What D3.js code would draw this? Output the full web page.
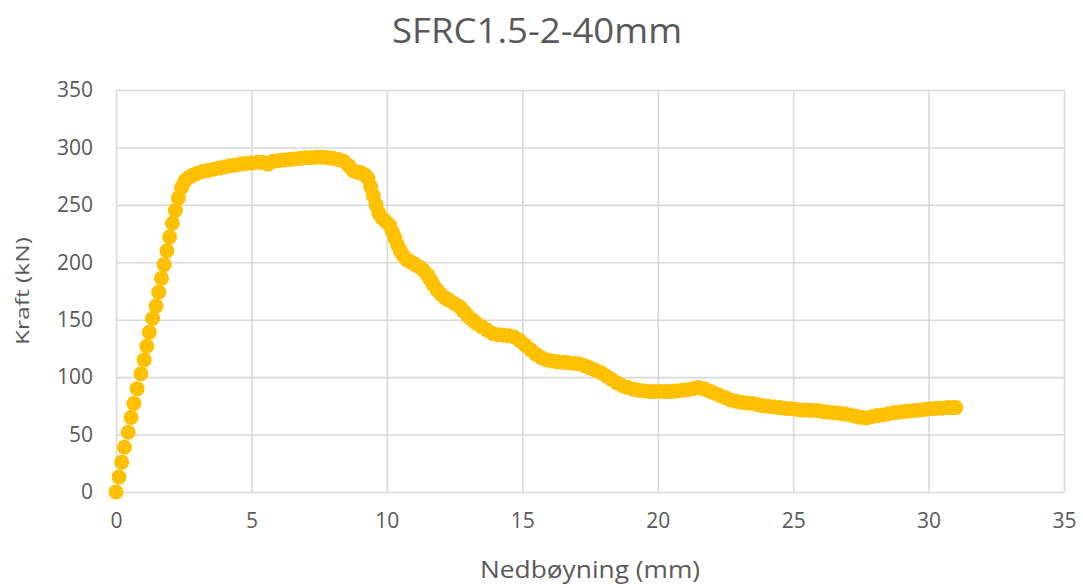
<!DOCTYPE html>
<html>
<head>
<meta charset="utf-8">
<script src="https://cdn.jsdelivr.net/npm/d3@7"></script>
<style>
  html, body { margin: 0; padding: 0; background: #fff; }
  svg { display: block; font-family: "Open Sans", "Noto Sans", sans-serif; }
</style>
</head>
<body>
<svg id="chart" width="1083" height="588"></svg>
<script>
// Load–deflection curve, SFRC1.5-2-40mm specimen
const deflection = [
  0, 0.11, 0.21, 0.31, 0.45, 0.56, 0.66, 0.78, 0.92, 1.04,
  1.14, 1.23, 1.35, 1.48, 1.58, 1.68, 1.78, 1.88, 1.98, 2.08,
  2.19, 2.30, 2.42, 2.55, 2.70, 2.85, 3.0, 3.2, 3.4, 3.6,
  3.8, 4.0, 4.2, 4.4, 4.6, 4.8, 5.0, 5.2, 5.4, 5.6,
  5.8, 6.0, 6.2, 6.4, 6.6, 6.8, 7.0, 7.2, 7.4, 7.6,
  7.8, 8.0, 8.2, 8.4, 8.6, 8.75, 8.9, 9.05, 9.2, 9.3,
  9.4, 9.5, 9.6, 9.7, 9.8, 9.95, 10.1, 10.2, 10.3, 10.4,
  10.5, 10.6, 10.75, 10.9, 11.05, 11.2, 11.35, 11.5, 11.6, 11.7,
  11.85, 12.0, 12.15, 12.3, 12.5, 12.7, 12.85, 13.0, 13.15, 13.3,
  13.5, 13.7, 13.9, 14.1, 14.3, 14.5, 14.7, 14.9, 15.1, 15.3,
  15.5, 15.7, 15.9, 16.1, 16.3, 16.5, 16.7, 16.9, 17.1, 17.3,
  17.5, 17.7, 17.9, 18.1, 18.3, 18.5, 18.7, 18.9, 19.1, 19.3,
  19.5, 19.7, 19.9, 20.1, 20.3, 20.5, 20.7, 20.9, 21.1, 21.3,
  21.5, 21.7, 21.9, 22.1, 22.3, 22.5, 22.7, 22.9, 23.1, 23.3,
  23.5, 23.7, 23.9, 24.1, 24.3, 24.5, 24.7, 24.9, 25.1, 25.3,
  25.5, 25.7, 25.9, 26.1, 26.3, 26.5, 26.7, 26.9, 27.1, 27.3,
  27.5, 27.7, 27.9, 28.1, 28.3, 28.5, 28.7, 28.9, 29.1, 29.3,
  29.5, 29.7, 29.9, 30.1, 30.3, 30.5, 30.7, 30.9, 31.0
];
const force = [
  0, 13, 26, 39, 52, 65, 77, 90, 103, 115,
  127, 139, 151, 162, 174, 186, 198, 210, 222, 234,
  245, 256, 265, 271, 274, 276, 277.5, 279, 280, 281,
  282, 283, 284, 284.5, 285.5, 286, 286.5, 287, 287, 285.5,
  288, 288.5, 289, 289.5, 290, 290.5, 291, 291, 291.5, 291.5,
  291, 290.5, 289.5, 288, 284, 280, 278.5, 278, 276, 273,
  266, 258, 250, 243, 239, 236, 232, 227, 221, 215,
  210, 206, 202, 200, 198, 196, 193, 189, 185, 181,
  176, 172, 169, 167, 164, 161, 157, 153, 150, 147,
  144, 141, 138, 137, 136.5, 136, 135, 132, 128, 124,
  120, 117, 115, 114, 113.5, 113, 112.5, 112, 111.5, 110,
  108, 106, 104, 101, 98, 95, 92.5, 91, 89.5, 88.5,
  88, 87.5, 87.5, 87.5, 87.5, 87.5, 88, 88.5, 89, 90,
  91, 90, 88, 86, 84, 82, 80, 79, 78, 77.5,
  77, 76, 75, 74.5, 74, 73.5, 73, 72.5, 72, 71.5,
  71.5, 71, 71, 70, 69.5, 69, 68.5, 68, 67, 66,
  65, 64.5, 65.5, 66.5, 67, 68, 69, 69.5, 70, 70.5,
  71, 71.5, 72, 72.5, 73, 73, 73.5, 73.5, 73.5
];
const xTicks = [0, 5, 10, 15, 20, 25, 30, 35];
const yTicks = [0, 50, 100, 150, 200, 250, 300, 350];

const chartTitle = "SFRC1.5-2-40mm";
const xTitle = "Nedbøyning (mm)";
const yTitle = "Kraft (kN)";

const svg = d3.select("#chart");
const margin = { left: 116, right: 19, top: 90, bottom: 96 };
const W = 1083, H = 588;

const x = d3.scaleLinear().domain([0, 35]).range([margin.left, W - margin.right]);
const y = d3.scaleLinear().domain([0, 350]).range([H - margin.bottom, margin.top]);

const textColor = "#595959";
const gridColor = "#d9d9d9";

// gridlines
svg.append("g")
  .attr("transform", `translate(0,${H - margin.bottom})`)
  .call(d3.axisBottom(x).tickValues(xTicks).tickSize(-(y(0) - y(350))).tickFormat(""))
  .call(g => g.select(".domain").remove())
  .call(g => g.selectAll("line").attr("stroke", gridColor).attr("stroke-width", 1.6));

svg.append("g")
  .attr("transform", `translate(${margin.left},0)`)
  .call(d3.axisLeft(y).tickValues(yTicks).tickSize(-(x(35) - x(0))).tickFormat(""))
  .call(g => g.select(".domain").remove())
  .call(g => g.selectAll("line").attr("stroke", gridColor).attr("stroke-width", 1.6));

// tick labels
svg.append("g")
  .attr("transform", `translate(0,${H - margin.bottom})`)
  .call(d3.axisBottom(x).tickValues(xTicks).tickSize(0).tickPadding(21))
  .call(g => g.select(".domain").remove())
  .call(g => g.selectAll("text")
    .attr("fill", textColor)
    .style("font-family", "'Open Sans', sans-serif")
    .style("font-size", "21px"));

svg.append("g")
  .attr("transform", `translate(${margin.left},0)`)
  .call(d3.axisLeft(y).tickValues(yTicks).tickSize(0).tickPadding(23))
  .call(g => g.select(".domain").remove())
  .call(g => g.selectAll("text")
    .attr("fill", textColor)
    .style("font-family", "'Open Sans', sans-serif")
    .style("font-size", "21px"));

// data markers
const points = deflection.map((d, i) => ({ x: d, y: force[i] }));
svg.append("g")
  .selectAll("circle")
  .data(points)
  .join("circle")
  .attr("cx", d => x(d.x))
  .attr("cy", d => y(d.y))
  .attr("r", 7.5)
  .attr("fill", "#FFC000");

// titles
svg.append("text")
  .attr("x", 537)
  .attr("y", 43)
  .attr("text-anchor", "middle")
  .attr("fill", textColor)
  .attr("textLength", 290)
  .attr("lengthAdjust", "spacingAndGlyphs")
  .style("font-size", "35px")
  .text(chartTitle);

svg.append("text")
  .attr("x", 590)
  .attr("y", 578)
  .attr("text-anchor", "middle")
  .attr("fill", textColor)
  .attr("textLength", 220)
  .attr("lengthAdjust", "spacingAndGlyphs")
  .style("font-size", "24px")
  .text(xTitle);

svg.append("text")
  .attr("transform", "translate(29,291) rotate(-90)")
  .attr("text-anchor", "middle")
  .attr("fill", textColor)
  .attr("textLength", 108)
  .attr("lengthAdjust", "spacingAndGlyphs")
  .style("font-size", "19px")
  .text(yTitle);
</script>
</body>
</html>
